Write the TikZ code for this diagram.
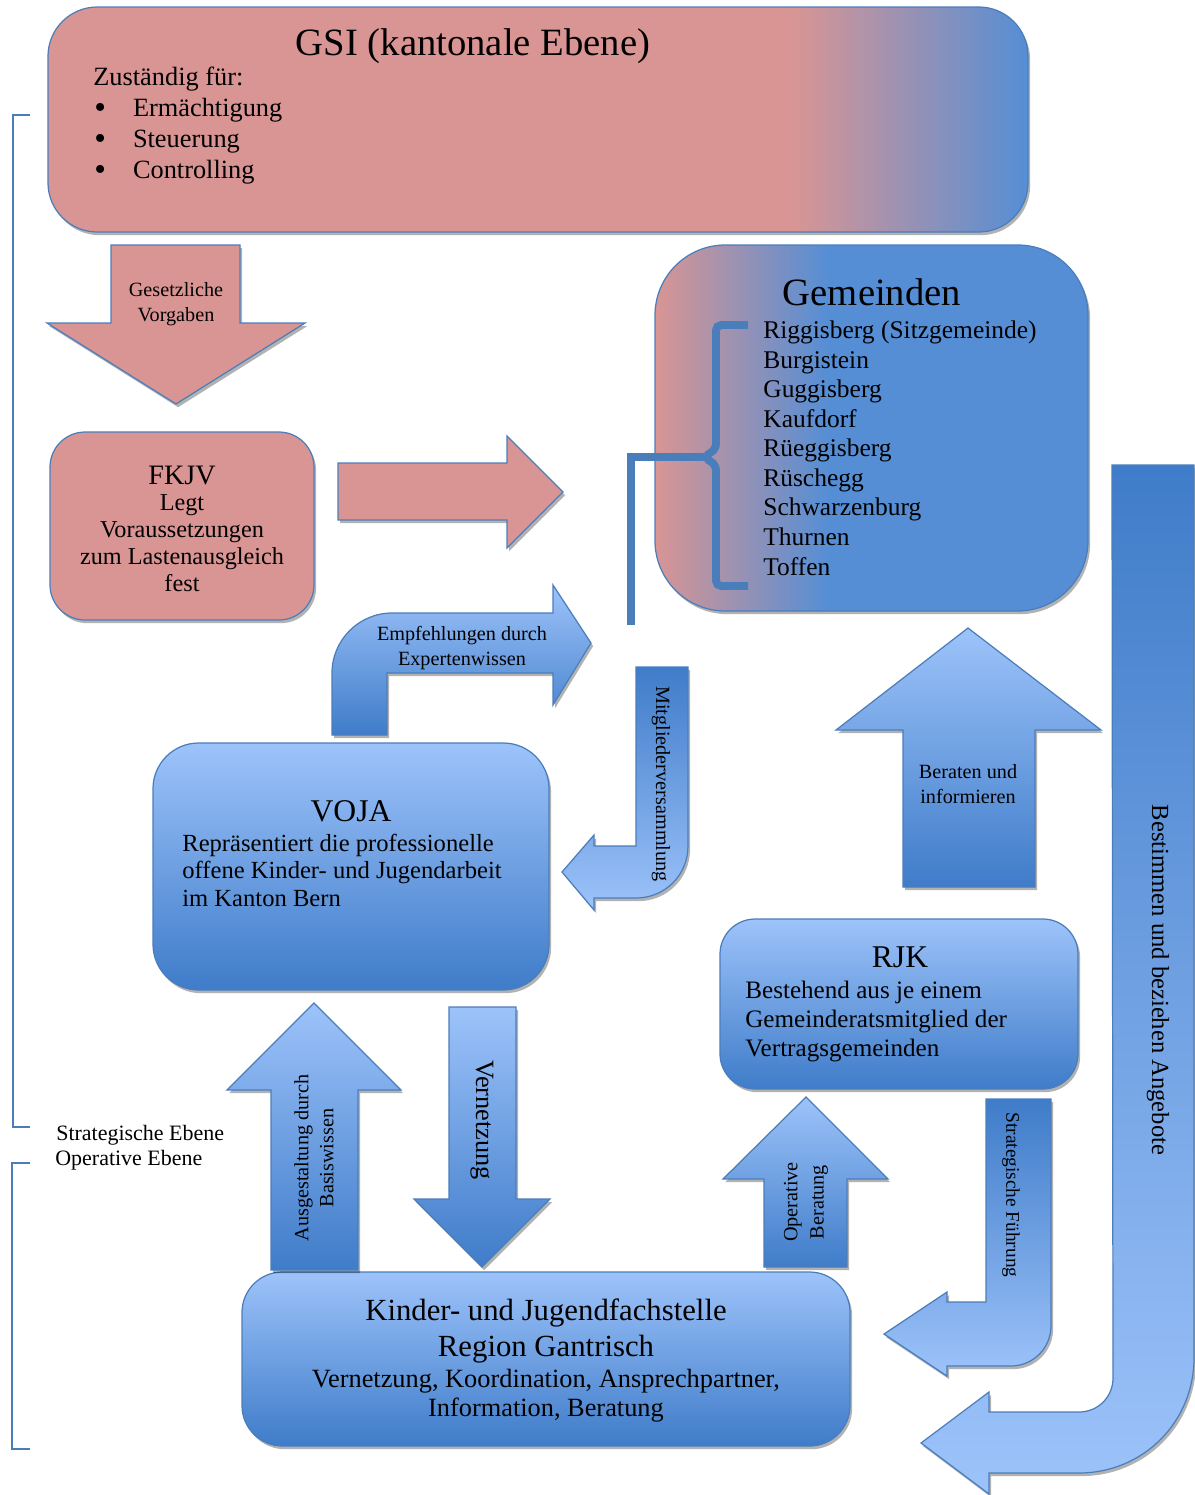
\documentclass[tikz,border=0pt]{standalone}
\usepackage{fontspec}
\setmainfont{Liberation Serif}
\usetikzlibrary{shadows}

\definecolor{gsipink}{HTML}{D99594}
\definecolor{gemblue}{HTML}{558ED5}
\definecolor{edgeblue}{HTML}{4A7EBB}
\definecolor{paleblue}{HTML}{9DC3FA}
\definecolor{deepblue}{HTML}{3F7CC9}

\pgfdeclarehorizontalshading{gsishading}{100bp}{color(0bp)=(gsipink); color(63bp)=(gsipink); color(75bp)=(gemblue); color(100bp)=(gemblue)}
\pgfdeclarehorizontalshading{gemshading}{100bp}{color(0bp)=(gsipink); color(25bp)=(gsipink); color(45bp)=(gemblue); color(100bp)=(gemblue)}

\tikzset{
  softshadow/.style={drop shadow={shadow xshift=1.2pt, shadow yshift=-1.8pt, opacity=0.3, fill=black}},
  pinkshape/.style={draw=edgeblue, line width=0.7pt, fill=gsipink, softshadow},
  lightdown/.style={draw=edgeblue, line width=0.7pt, top color=paleblue, bottom color=deepblue, softshadow},
  darkdown/.style={draw=edgeblue, line width=0.7pt, top color=deepblue, bottom color=paleblue, softshadow},
  gsishape/.style={draw=edgeblue, line width=0.7pt, shade, shading=gsishading, softshadow},
  gemshape/.style={draw=edgeblue, line width=0.7pt, shade, shading=gemshading, softshadow},
  bracketline/.style={draw=edgeblue, line width=4.5pt},
  levelline/.style={draw=edgeblue, line width=1.6pt},
  bigtitle/.style={inner sep=0, font=\fontsize{22}{26}\selectfont},
  boxtitle/.style={inner sep=0, font=\fontsize{18}{22}\selectfont},
  boxtext/.style={inner sep=0, align=left, font=\fontsize{14}{15.4}\selectfont},
  arrowtext/.style={inner sep=0, align=center, font=\fontsize{11.5}{14.2}\selectfont},
}
\newcommand{\gsibullet}{\makebox[22pt][l]{\raisebox{-1.5pt}{\fontsize{19}{19}\selectfont\textbullet}}}

\begin{document}
\begin{tikzpicture}[x=0.02cm, y=-0.02cm]
      \useasboundingbox (0,0) rectangle (1195,1495);
      % TOP PART
      % -- GSI box
      \draw[gsishape, rounded corners=28pt] (48,7) rectangle (1028,232);
      \node[bigtitle, anchor=base] (gsititle) at (473,55) {GSI (kantonale Ebene)};
      \node[boxtext, font=\fontsize{15}{17.6}\selectfont, anchor=base west] (gsifor) at (93,85) {Zuständig für:};
      \node[boxtext, font=\fontsize{15}{17.6}\selectfont, anchor=base west] (gsiitema) at (94,116) {\gsibullet Ermächtigung};
      \node[boxtext, font=\fontsize{15}{17.6}\selectfont, anchor=base west] (gsiitemb) at (94,147) {\gsibullet Steuerung};
      \node[boxtext, font=\fontsize{15}{17.6}\selectfont, anchor=base west] (gsiitemc) at (94,178) {\gsibullet Controlling};
      % -- arrow down
      \draw[pinkshape] (111,245) -- (240,245) -- (240,323) -- (305,323) -- (176,404) -- (47,323) -- (111,323) -- cycle;
      \node[arrowtext] (gesetz) at (176,304) {Gesetzliche\\Vorgaben};
      % -- FKJV box
      \draw[pinkshape, rounded corners=20pt] (50,432) rectangle (314,620);
      \node[boxtitle, font=\fontsize{16}{19}\selectfont, anchor=base] (fkjvtitle) at (182,484) {FKJV};
      \node[boxtext, align=center, font=\fontsize{13.8}{15.2}\selectfont, anchor=base] (fkjvtext) at (182,591) {Legt\\Voraussetzungen\\zum Lastenausgleich\\fest};
      % -- arrow right
      \draw[pinkshape] (338,463) -- (507,463) -- (507,436) -- (563,492) -- (507,548) -- (507,520) -- (338,520) -- cycle;
      % -- Gemeinden box
      \draw[gemshape, rounded corners=40pt] (655,245) rectangle (1088,611);
      \node[bigtitle, anchor=base] (gemtitle) at (872,305) {Gemeinden};
      \node[boxtext, font=\fontsize{14.5}{16.8}\selectfont, anchor=base west] (gemlist) at (763,575) {Riggisberg (Sitzgemeinde)\\Burgistein\\Guggisberg\\Kaufdorf\\Rüeggisberg\\Rüschegg\\Schwarzenburg\\Thurnen\\Toffen};
      % -- bracket
      \coordinate (gemcusp) at (704,457);
      \coordinate (gemfoot) at (631,625);
      \draw[bracketline, rounded corners=3pt] (748,325) -- (716,325) -- (716,449) -- (gemcusp) -- (716,465) -- (716,586) -- (748,586);
      \draw[bracketline] (gemcusp) -| (gemfoot);
      % MIDDLE PART
      % -- arrow Empfehlungen
      \draw[lightdown] (332,735) -- (332,673) .. controls (332,640) and (359,613) .. (392,613) -- (553,613) -- (553,585) -- (591,643) -- (553,705) -- (553,673) -- (387,673) -- (387,735) -- cycle;
      \node[arrowtext] (empf) at (462,648) {Empfehlungen durch\\Expertenwissen};
      % -- arrow Mitglieder
      \draw[darkdown] (636,667) -- (688,667) -- (688,846) .. controls (688,875) and (665,898) .. (636,898) -- (594,898) -- (594,910) -- (562,872) -- (594,835) -- (594,846) -- (636,846) -- cycle;
      \node[arrowtext, rotate=-90] (mitglied) at (661,784) {Mitgliederversammlung};
      % -- VOJA box
      \draw[lightdown, rounded corners=26pt] (153,743) rectangle (549,990);
      \node[boxtitle, anchor=base] (vojatitle) at (351,821) {VOJA};
      \node[boxtext, anchor=base west] (vojatext) at (182,906) {Repräsentiert die professionelle\\offene Kinder- und Jugendarbeit\\im Kanton Bern};
      % -- arrow Beraten
      \draw[lightdown] (903,887) -- (903,730) -- (836,730) -- (968,628) -- (1101,730) -- (1035,730) -- (1035,887) -- cycle;
      \node[arrowtext] (beraten) at (968,784) {Beraten und\\informieren};
      % -- RJK box
      \draw[lightdown, rounded corners=20pt] (720,919) rectangle (1078,1089);
      \node[boxtitle, anchor=base] (rjktitle) at (900,967) {RJK};
      \node[boxtext, font=\fontsize{14.3}{16.5}\selectfont, anchor=base west] (rjktext) at (745,1056) {Bestehend aus je einem\\Gemeinderatsmitglied der\\Vertragsgemeinden};
      % -- arrow Bestimmen
      \draw[darkdown] (1112,465) -- (1194,465) -- (1194,1358) .. controls (1194,1422) and (1143,1473) .. (1079,1473) -- (989,1473) -- (989,1494) -- (921,1443) -- (989,1392) -- (989,1412) -- (1079,1412) .. controls (1098,1412) and (1113,1397) .. (1113,1378) -- cycle;
      \node[arrowtext, font=\fontsize{14}{16}\selectfont, rotate=-90] (bestimmen) at (1158,980) {Bestimmen und beziehen Angebote};
      % BOTTOM PART
      % -- arrow Strategische Fuehrung
      \draw[darkdown] (986,1099) -- (1051,1099) -- (1051,1326) .. controls (1051,1348) and (1033,1366) .. (1011,1366) -- (947,1366) -- (947,1376) -- (884,1334) -- (947,1292) -- (947,1302) -- (986,1302) -- cycle;
      \node[arrowtext, font=\fontsize{11}{13}\selectfont, rotate=-90] (strafuehr) at (1011,1195) {Strategische Führung};
      % -- arrow Operative Beratung
      \draw[lightdown] (764,1267) -- (764,1179) -- (723,1179) -- (806,1097) -- (888,1179) -- (847,1179) -- (847,1267) -- cycle;
      \node[arrowtext, font=\fontsize{11.5}{15}\selectfont, rotate=90] (opberat) at (806,1202) {Operative\\Beratung};
      % -- Fachstelle box
      \draw[lightdown, rounded corners=23pt] (242,1272) rectangle (850,1446);
      \node[boxtitle, font=\fontsize{17.5}{20}\selectfont, align=center, anchor=base] (kjftitle) at (546,1356) {Kinder- und Jugendfachstelle\\Region Gantrisch};
      \node[boxtext, font=\fontsize{15}{16.5}\selectfont, align=center, anchor=base] (kjftext) at (546,1416) {Vernetzung, Koordination, Ansprechpartner,\\Information, Beratung};
      % -- arrow Ausgestaltung
      \draw[lightdown] (271,1270) -- (271,1090) -- (227,1090) -- (314,1003) -- (401,1090) -- (358,1090) -- (358,1270) -- cycle;
      \node[arrowtext, rotate=90] (ausgest) at (314,1158) {Ausgestaltung durch\\Basiswissen};
      % -- arrow Vernetzung
      \draw[lightdown] (449,1007) -- (516,1007) -- (516,1199) -- (550,1199) -- (482,1267) -- (414,1199) -- (449,1199) -- cycle;
      \node[arrowtext, font=\fontsize{15}{17}\selectfont, rotate=-90] (vernetz) at (482,1120) {Vernetzung};
      % LEVELS
      \draw[levelline] (30,115) -- (13,115) -- (13,1127) -- (30,1127);
      \draw[levelline] (30,1163) -- (12,1163) -- (12,1449) -- (30,1449);
      \node[boxtext, font=\fontsize{12.5}{14}\selectfont, anchor=base west] (strat) at (56,1140) {Strategische Ebene};
      \node[boxtext, font=\fontsize{12.5}{14}\selectfont, anchor=base west] (oper) at (55,1165) {Operative Ebene};
\end{tikzpicture}
\end{document}
